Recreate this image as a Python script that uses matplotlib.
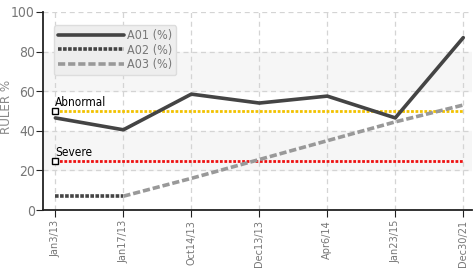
import matplotlib
matplotlib.use("Agg")
import matplotlib.pyplot as plt
import numpy as np

plt.rcParams["font.family"] = ["DejaVu Sans"]
plt.rcParams["font.stretch"] = "condensed"

dates = ["Jan3/13", "Jan17/13", "Oct14/13", "Dec13/13", "Apr6/14", "Jan23/15", "Dec30/21"]
a01 = [46.5, 40.5, 58.5, 54, 57.5, 46.5, 87]
a02 = [7, 7, np.nan, np.nan, np.nan, np.nan, np.nan]
a03 = [np.nan, 7, 16, 25.5, 35, 44.5, 53]
abnormal = 50
severe = 25

fig = plt.figure(figsize=(4.74, 2.70), dpi=100)
ax = fig.add_axes([0.091, 0.222, 0.905, 0.734])
x = np.arange(len(dates))

for lo, hi in [(20, 40), (60, 80)]:
    ax.axhspan(lo, hi, color="#f6f6f6", zorder=0)
ax.grid(True, color="#d4d4d4", linestyle=(0, (4, 3)), lw=0.9, zorder=1)

ax.plot(x, a01, color="#444444", lw=2.6, label="A01 (%)", zorder=4, solid_capstyle="round")
ax.plot(x, a02, color="#444444", lw=2.6, linestyle=(0, (1, 0.4)), label="A02 (%)", zorder=4)
ax.plot(x, a03, color="#999999", lw=2.6, linestyle=(0, (2, 0.8)), label="A03 (%)", zorder=3)

ax.plot(x, [abnormal] * len(x), color="#f2c200", lw=2, linestyle=(0, (1, 0.6)), zorder=2)
ax.plot(x, [severe] * len(x), color="#ee1111", lw=2, linestyle=(0, (1, 0.6)), zorder=2)
ax.plot([x[0]], [abnormal], marker="s", ms=4.5, mfc="white", mec="black", mew=1, zorder=5)
ax.plot([x[0]], [severe], marker="s", ms=4.5, mfc="white", mec="black", mew=1, zorder=5)
ax.text(x[0], abnormal + 2.5, "Abnormal", fontsize=8.5, color="black", zorder=5)
ax.text(x[0], severe + 2.5, "Severe", fontsize=8.5, color="black", zorder=5)

ax.set_xlim(-0.18, 6.13)
ax.set_ylim(0, 100)
ax.set_xticks(x)
ax.set_xticklabels(dates, rotation=90, fontsize=7.8, color="#777777")
ax.set_yticks([0, 20, 40, 60, 80, 100])
ax.tick_params(axis="y", labelsize=10, colors="#777777", length=5, pad=1)
ax.tick_params(axis="x", length=5, colors="#777777", pad=2)
ax.tick_params(axis="both", color="#222222")
ax.set_ylabel("RULER %", fontsize=9.5, color="#888888")
ax.yaxis.set_label_coords(-0.07, 0.52)

for s in ["top", "right"]:
    ax.spines[s].set_visible(False)
ax.spines["left"].set_color("#222222")
ax.spines["bottom"].set_color("#222222")
ax.spines["left"].set_linewidth(1.3)
ax.spines["bottom"].set_linewidth(1.3)

leg = ax.legend(loc="upper left", bbox_to_anchor=(0.01, 0.965), fontsize=9,
                handlelength=5.3, handletextpad=0.2, labelspacing=0.1,
                borderpad=0.35, fancybox=True, framealpha=1)
leg.get_frame().set_facecolor("#eeeeee")
leg.get_frame().set_edgecolor("#dddddd")
for t in leg.get_texts():
    t.set_color("#777777")

fig.savefig("out.png", dpi=100)
